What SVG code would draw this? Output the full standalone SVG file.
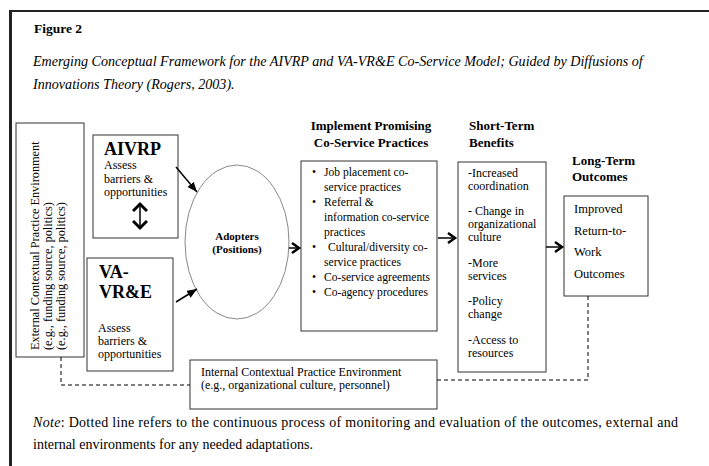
<svg xmlns="http://www.w3.org/2000/svg" width="709" height="466" viewBox="0 0 709 466">
<style>
text{font-family:"Liberation Serif","Times New Roman",serif;fill:#000}
.box{fill:#fff;stroke:#333;stroke-width:1}
.b{font-weight:bold}
.hd{font-weight:bold;font-size:13px}
.sm{font-size:12px}
.li{font-size:11.6px}
.dash{fill:none;stroke:#000;stroke-width:1;stroke-dasharray:4,3}
.ln{stroke:#000;stroke-width:1.5;fill:none}
</style>
<defs>
<marker id="chev" markerUnits="userSpaceOnUse" markerWidth="12" markerHeight="14" refX="8" refY="6" orient="auto">
<path d="M1,1 L8,6 L1,11" fill="none" stroke="#000" stroke-width="2.5"/>
</marker>
<marker id="tri" markerUnits="userSpaceOnUse" markerWidth="12" markerHeight="10" refX="10" refY="4" orient="auto">
<path d="M0,0 L10,4 L0,8 Z" fill="#000"/>
</marker>
<marker id="dchev" markerUnits="userSpaceOnUse" markerWidth="16" markerHeight="16" refX="8" refY="8" orient="auto-start-reverse">
<path d="M1,1 L8,8 L1,15" fill="none" stroke="#000" stroke-width="3"/>
</marker>
</defs>
<rect width="709" height="466" fill="#fff"/>
<g id="frame">
<line x1="9" y1="11" x2="709" y2="11" stroke="#222" stroke-width="2"/>
<line x1="10.5" y1="10" x2="10.5" y2="466" stroke="#222" stroke-width="3"/>
</g>
<g id="caption">
<text x="34" y="33" class="b" font-size="13.5">Figure 2</text>
<text x="33" y="66" font-size="14.1" font-style="italic">Emerging Conceptual Framework for the AIVRP and VA-VR&amp;E Co-Service Model; Guided by Diffusions of</text>
<text x="33" y="89" font-size="14.1" font-style="italic">Innovations Theory (Rogers, 2003).</text>
</g>
<g id="headers">
<text x="371" y="130" class="hd" text-anchor="middle">Implement Promising</text>
<text x="371" y="147" class="hd" text-anchor="middle">Co-Service Practices</text>
<text x="469" y="130" class="hd">Short-Term</text>
<text x="469" y="147" class="hd">Benefits</text>
<text x="572" y="165" class="hd">Long-Term</text>
<text x="572" y="181" class="hd">Outcomes</text>
</g>
<g id="external">
<rect class="box" x="16" y="123" width="68" height="234"/>
<text font-size="12.3" transform="translate(39,350) rotate(-90)">External Contextual Practice Environment</text>
<text font-size="12.3" transform="translate(52,350) rotate(-90)">(e.g., funding source, politics)</text>
<text font-size="12.3" transform="translate(65,350) rotate(-90)">(e.g., funding source, politics)</text>
</g>
<g id="aivrp">
<rect class="box" x="93" y="135" width="85" height="103"/>
<text x="104" y="155" class="b" font-size="18">AIVRP</text>
<text x="104" y="169" class="sm">Assess</text>
<text x="104" y="183" class="sm">barriers &amp;</text>
<text x="104" y="196" class="sm">opportunities</text>
</g>
<g id="vavre">
<rect class="box" x="87" y="258" width="86" height="113"/>
<text x="99" y="278" class="b" font-size="18">VA-</text>
<text x="99" y="298" class="b" font-size="18">VR&amp;E</text>
<text x="98" y="332" class="sm">Assess</text>
<text x="98" y="345" class="sm">barriers &amp;</text>
<text x="98" y="358" class="sm">opportunities</text>
</g>
<g id="adopters">
<ellipse cx="237" cy="242" rx="52" ry="77" fill="#fff" stroke="#888" stroke-width="1"/>
<text x="237" y="240" class="b" font-size="11" text-anchor="middle">Adopters</text>
<text x="237" y="253" class="b" font-size="11" text-anchor="middle">(Positions)</text>
</g>
<g id="practices">
<rect class="box" x="301" y="161" width="136" height="170"/>
<g class="li">
<text x="312" y="176">•</text><text x="324" y="176">Job placement co-</text>
<text x="324" y="191">service practices</text>
<text x="312" y="206">•</text><text x="324" y="206">Referral &amp;</text>
<text x="324" y="221">information co-service</text>
<text x="324" y="236">practices</text>
<text x="312" y="251">•</text><text x="328" y="251">Cultural/diversity co-</text>
<text x="324" y="266">service practices</text>
<text x="312" y="281">•</text><text x="324" y="281">Co-service agreements</text>
<text x="312" y="296">•</text><text x="324" y="296">Co-agency procedures</text>
</g>
</g>
<g id="shortterm">
<rect class="box" x="458" y="162" width="88" height="210"/>
<g class="sm">
<text x="468" y="177">-Increased</text>
<text x="468" y="190">coordination</text>
<text x="468" y="215">- Change in</text>
<text x="468" y="228">organizational</text>
<text x="468" y="241">culture</text>
<text x="468" y="267">-More</text>
<text x="468" y="280">services</text>
<text x="468" y="305">-Policy</text>
<text x="468" y="318">change</text>
<text x="468" y="344">-Access to</text>
<text x="468" y="357">resources</text>
</g>
</g>
<g id="longterm">
<rect class="box" x="564" y="196" width="84" height="100"/>
<g font-size="12.5">
<text x="574" y="213">Improved</text>
<text x="574" y="235">Return-to-</text>
<text x="574" y="256">Work</text>
<text x="574" y="278">Outcomes</text>
</g>
</g>
<g id="internal">
<rect class="box" x="190" y="360" width="247" height="49"/>
<text x="201" y="376" class="sm">Internal Contextual Practice Environment</text>
<text x="201" y="389" class="sm">(e.g., organizational culture, personnel)</text>
</g>
<g id="connectors">
<line class="ln" x1="176" y1="167" x2="197" y2="192" marker-end="url(#tri)"/>
<line class="ln" x1="176" y1="302" x2="197" y2="289" marker-end="url(#tri)"/>
<line class="ln" x1="140" y1="204" x2="140" y2="228" stroke-width="2.5" marker-start="url(#dchev)" marker-end="url(#dchev)"/>
<line class="ln" x1="289" y1="248" x2="299" y2="248" marker-end="url(#chev)"/>
<line class="ln" x1="438" y1="238" x2="455" y2="238" marker-end="url(#chev)"/>
<line class="ln" x1="546" y1="247" x2="562" y2="247" marker-end="url(#chev)"/>
<path class="dash" d="M61,357 V385 H190"/>
<path class="dash" d="M437,380 H588 V296"/>
</g>
<g id="note">
<text x="33" y="427" font-size="14" textLength="645" lengthAdjust="spacing"><tspan font-style="italic">Note</tspan>: Dotted line refers to the continuous process of monitoring and evaluation of the outcomes, external and</text>
<text x="33" y="449" font-size="14">internal environments for any needed adaptations.</text>
</g>
</svg>
